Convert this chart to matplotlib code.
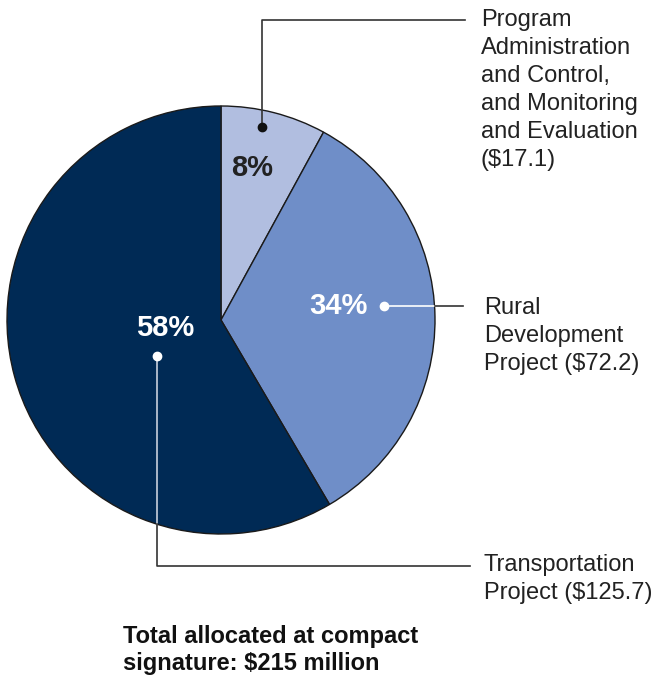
import matplotlib.pyplot as plt
import numpy as np

labels = ['Program\nAdministration\nand Control,\nand Monitoring\nand Evaluation\n($17.1)',
          'Rural\nDevelopment\nProject ($72.2)',
          'Transportation\nProject ($125.7)']
values = [17.1, 72.2, 125.7]
pcts = ['8%', '34%', '58%']
colors = ['#b1bee0', '#6f8ec8', '#002a55']

plt.rcParams['font.family'] = ['Liberation Sans', 'DejaVu Sans']

W, H = 652, 676
fig = plt.figure(figsize=(W / 100, H / 100), dpi=100)
ax = fig.add_axes([0, 0, 1, 1])

cx, cy, r = 221, H - 320, 214
wedges, _ = ax.pie(values, colors=colors, startangle=90, counterclock=False,
                   center=(cx, cy), radius=r, frame=True,
                   wedgeprops=dict(edgecolor='#1a1a1a', linewidth=1))
ax.set_xlim(0, W)
ax.set_ylim(0, H)
ax.set_aspect('equal')
ax.axis('off')


def py(y):
    return H - y


# leader lines
dark = '#333333'
# program admin
ax.plot([262, 262, 465], [py(127), py(20), py(20)], color=dark, lw=1.2)
ax.plot(262, py(127), 'o', color='#111111', ms=6)
# rural
edge_x = cx + np.sqrt(r**2 - 14**2)
ax.plot([384, edge_x], [py(306), py(306)], color='white', lw=1.2)
ax.plot([edge_x, 463], [py(306), py(306)], color=dark, lw=1.2)
ax.plot(384, py(306), 'o', color='white', ms=6)
# transportation
edge_y = 320 + np.sqrt(r**2 - 64**2)
ax.plot([157, 157], [py(356), py(edge_y)], color='#c8cfdc', lw=1.2)
ax.plot([157, 157, 470], [py(edge_y), py(566), py(566)], color=dark, lw=1.2)
ax.plot(157, py(356), 'o', color='white', ms=6)

# category labels
txt = dict(fontsize=17, color='#222222', va='top', ha='left', linespacing=1.35)
ax.text(481, py(9), labels[0], **txt)
ax.text(484, py(297), labels[1], **txt)
ax.text(484, py(554), labels[2], **txt)

# percentage labels
pct_kw = dict(fontsize=21, fontweight='bold', ha='center', va='center')
ax.text(252, py(168), pcts[0], color='#222222', **pct_kw)
ax.text(338, py(306), pcts[1], color='white', **pct_kw)
ax.text(165, py(328), pcts[2], color='white', **pct_kw)

ax.text(123, py(625), 'Total allocated at compact\nsignature: $215 million',
        fontsize=17, fontweight='bold', color='#111111', va='top', ha='left',
        linespacing=1.22)

fig.savefig('out.png', dpi=100)
